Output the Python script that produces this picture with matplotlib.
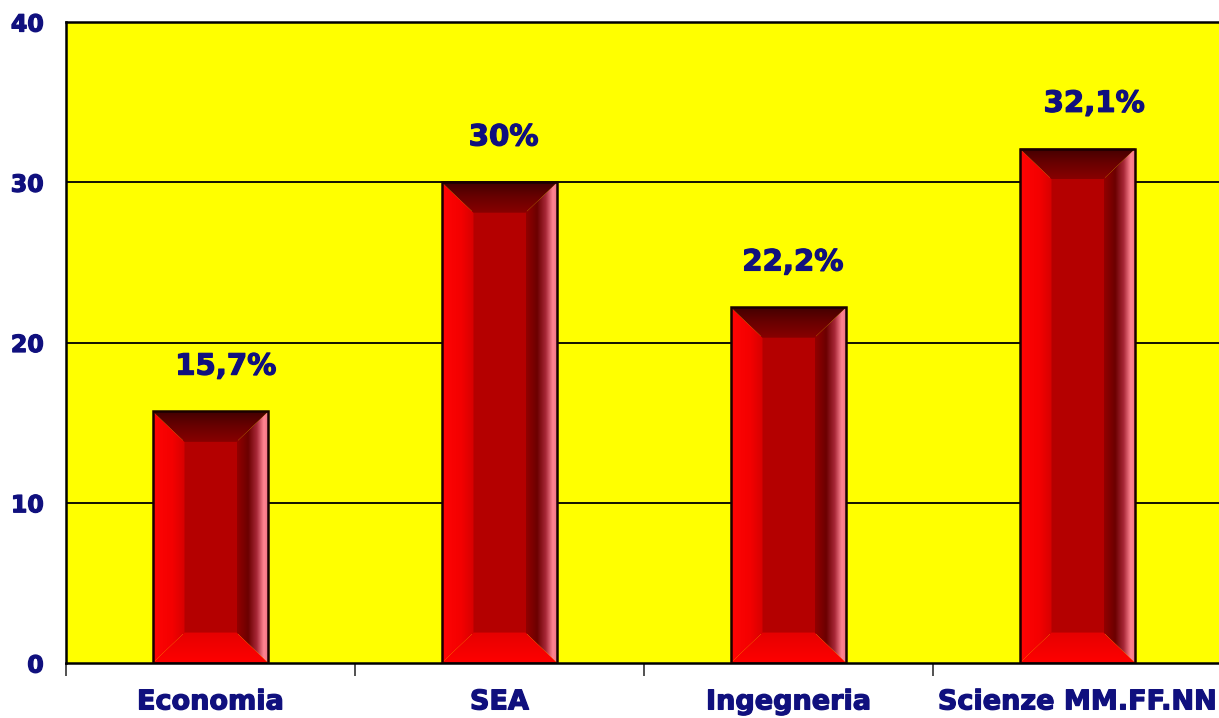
import numpy as np
import matplotlib
matplotlib.use("Agg")
import matplotlib.pyplot as plt
from matplotlib.patches import Polygon, Rectangle
from matplotlib.colors import LinearSegmentedColormap
import matplotlib.patheffects as pe

categories = ["Economia", "SEA", "Ingegneria", "Scienze MM.FF.NN"]
values = [15.7, 30.0, 22.2, 32.1]
value_labels = ["15,7%", "30%", "22,2%", "32,1%"]
yticks = [0, 10, 20, 30, 40]
label_dx_pt = [11, 3, 3, 12]   # horizontal nudges of the value labels, as in the reference

NAVY = "#10107e"
W, H = 1219, 718
fig = plt.figure(figsize=(W / 100, H / 100), dpi=100)
fig.patch.set_facecolor("white")
left_px, right_px, top_px, bot_px = 66, 1222, 22, 663
ax = fig.add_axes([left_px / W, 1 - bot_px / H, (right_px - left_px) / W, (bot_px - top_px) / H])
ax.set_facecolor("#ffff00")

xlim = (-0.5, len(categories) - 0.5)
ylim = (0, 40)

heavy = [pe.withStroke(linewidth=0.9, foreground=NAVY)]

for t in yticks[1:-1]:
    ax.axhline(t, color="black", lw=1.3, zorder=1)

bar_w = 0.40
bx = 0.11   # bevel width in category units
by = 1.9    # bevel height in value units

cm_top = LinearSegmentedColormap.from_list("t", ["#880000", "#6a0000", "#420000"])
cm_left = LinearSegmentedColormap.from_list("l", [(0, "#ff0404"), (0.6, "#f40000"), (1, "#d60000")])
cm_right = LinearSegmentedColormap.from_list(
    "r", [(0, "#920000"), (0.35, "#6c0000"), (0.62, "#a82838"), (0.84, "#ff8592"), (1.0, "#f07080")])
cm_bot = LinearSegmentedColormap.from_list("b", ["#ff0000", "#e60000"])


def grad_poly(verts, cmap, direction):
    verts = np.array(verts)
    x0, x1 = verts[:, 0].min(), verts[:, 0].max()
    y0, y1 = verts[:, 1].min(), verts[:, 1].max()
    rgb = cmap(np.linspace(0, 1, 256))[:, :3]
    arr = rgb[np.newaxis, :, :] if direction == "h" else rgb[:, np.newaxis, :]
    im = ax.imshow(arr, extent=(x0, x1, y0, y1), origin="lower", aspect="auto",
                   interpolation="bilinear", zorder=2)
    p = Polygon(verts, closed=True, facecolor="none", edgecolor="none",
                transform=ax.transData)
    ax.add_patch(p)
    im.set_clip_path(p)


for i, v in enumerate(values):
    xl, xr = i - bar_w / 2, i + bar_w / 2
    ixl, ixr = xl + bx, xr - bx
    iyb, iyt = by, v - by
    ax.add_patch(Rectangle((ixl - 0.005, iyb - 0.1), ixr - ixl + 0.01, iyt - iyb + 0.2,
                           facecolor="#b40000", edgecolor="none", zorder=2))
    grad_poly([(xl, 0), (ixl, iyb), (ixl, iyt), (xl, v)], cm_left, "h")
    grad_poly([(xr, 0), (xr, v), (ixr, iyt), (ixr, iyb)], cm_right, "h")
    grad_poly([(xl, v), (xr, v), (ixr, iyt), (ixl, iyt)], cm_top, "v")
    grad_poly([(xl, 0), (xr, 0), (ixr, iyb), (ixl, iyb)], cm_bot, "v")
    ax.add_patch(Rectangle((xl, 0), bar_w, v, facecolor="none", edgecolor="#1a0000",
                           lw=1.8, zorder=3))
    ax.annotate(value_labels[i], xy=(i, v), xytext=(label_dx_pt[i], 26.5),
                textcoords="offset points", ha="center", va="baseline",
                fontsize=21, fontweight="bold", color=NAVY, zorder=4,
                path_effects=heavy)

ax.set_xlim(*xlim)
ax.set_ylim(*ylim)

ax.set_yticks(yticks)
ax.set_yticklabels([str(t) for t in yticks])
ax.tick_params(axis="y", length=0, pad=16, labelsize=17, labelcolor=NAVY)
for lbl in ax.get_yticklabels():
    lbl.set_fontweight("bold")
    lbl.set_path_effects(heavy)

ax.set_xticks(range(len(categories)))
ax.set_xticklabels(categories)
ax.set_xticks([k - 0.5 for k in range(len(categories) + 1)], minor=True)
ax.tick_params(axis="x", which="major", length=0, pad=19, labelsize=19.5, labelcolor=NAVY)
ax.tick_params(axis="x", which="minor", length=9, width=1.2, color="#333333")
for lbl in ax.get_xticklabels():
    lbl.set_fontweight("bold")
    lbl.set_path_effects(heavy)

for s in ax.spines.values():
    s.set_color("black")
    s.set_linewidth(1.8)

fig.savefig("out.png", dpi=100, facecolor="white")
